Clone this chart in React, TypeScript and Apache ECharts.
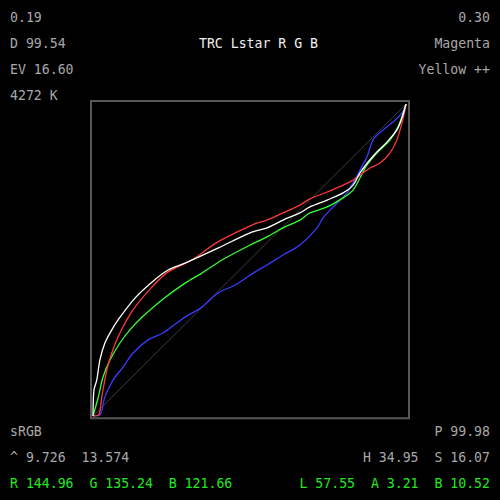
import React, { useEffect, useRef } from "react";
import * as echarts from "echarts";

// Tone response curves, input % -> output %
const whiteCurve: [number, number][] = [
  [0, 0], [0.3, 8.3], [1.2, 11.5], [2.2, 17.9], [3.8, 23.4], [6.0, 27.6], [8.0, 30.8],
  [13.4, 37.8], [18.8, 42.9], [24.0, 46.8], [29.4, 49.0], [39.9, 53.8], [50.2, 58.7],
  [55.6, 60.3], [60.7, 62.8], [66.1, 65.1], [69.3, 67.0], [74.8, 69.2], [79.9, 71.5],
  [83.1, 74.0], [85.3, 77.9], [87.9, 81.4], [90.7, 84.6], [93.9, 87.8], [97.1, 91.7],
  [98.7, 95.5], [100, 100],
];
const redCurve: [number, number][] = [
  [0, 0], [1.9, 0.5], [2.8, 6.1], [4.4, 14.7], [6.0, 20.2], [8.0, 25.3], [10.8, 30.8],
  [13.4, 34.9], [18.8, 41.3], [24.0, 46.2], [31.6, 50.0], [39.9, 55.8], [50.8, 61.2],
  [55.6, 62.8], [60.7, 65.1], [66.1, 67.6], [69.3, 69.6], [74.8, 71.8], [79.9, 74.0],
  [83.1, 75.6], [85.3, 77.2], [88.5, 79.5], [91.7, 81.1], [94.9, 84.3], [97.1, 88.5],
  [98.7, 93.9], [99.7, 98.1], [100, 100],
];
const greenCurve: [number, number][] = [
  [0, 0], [1.7, 6.1], [3.2, 12.5], [5.4, 17.9], [8.6, 23.4], [11.8, 27.6], [15.7, 31.7],
  [22.0, 37.2], [29.4, 42.6], [34.8, 45.8], [41.2, 50.0], [50.2, 54.8], [55.6, 57.4],
  [60.7, 60.3], [66.1, 62.8], [69.3, 65.1], [74.8, 67.0], [79.9, 69.9], [83.1, 72.4],
  [85.3, 76.3], [87.5, 80.4], [90.7, 84.3], [94.9, 88.5], [97.4, 92.6], [99.0, 96.8],
  [100, 100],
];
const blueCurve: [number, number][] = [
  [0, 0], [2.2, 0.3], [3.8, 6.1], [6.4, 11.5], [9.6, 15.7], [12.8, 20.2], [17.6, 24.4],
  [22.4, 26.6], [24.6, 28.2], [29.4, 31.7], [34.8, 34.9], [39.9, 39.4], [45.4, 42.0],
  [51.8, 46.2], [55.6, 48.4], [60.7, 51.6], [66.1, 54.8], [71.6, 60.3], [73.5, 63.5],
  [76.7, 67.0], [81.2, 71.5], [83.1, 74.7], [85.3, 78.8], [87.5, 83.0], [89.5, 88.5],
  [92.7, 91.7], [95.8, 94.2], [98.7, 97.1], [100, 100],
];
const identityLine: [number, number][] = [[0, 0], [100, 100]];

// Readouts around the plot
const topLeftLines = ["0.19", "D 99.54", "EV 16.60", "4272 K"];
const topRightLines = ["0.30", "Magenta", "Yellow ++"];
const titleText = "TRC Lstar R G B";
const bottomLeftGray = ["sRGB", "^ 9.726  13.574"];
const bottomRightGray = ["P 99.98", "H 34.95  S 16.07"];
const bottomLeftGreen = "R 144.96  G 135.24  B 121.66";
const bottomRightGreen = "L 57.55  A 3.21  B 10.52";

const FONT = "'DejaVu Sans Mono', monospace";
const GRAY = "#a8a8a8";
const GREEN = "#22e822";

export default function App() {
  const ref = useRef<HTMLDivElement>(null);

  useEffect(() => {
    if (!ref.current) return;
    const chart = echarts.init(ref.current, undefined, { renderer: "svg" });

    const txt = (
      text: string,
      x: number,
      y: number,
      align: "left" | "right" | "center",
      fill: string
    ) => ({
      type: "text",
      x,
      y,
      silent: true,
      style: {
        text,
        fill,
        font: `13.2px ${FONT}`,
        textAlign: align,
        textVerticalAlign: "middle",
      },
    });

    const rowsTop = [17, 43.5, 69.5, 95.5];
    const rowsBottom = [431.5, 457.5, 483];

    const graphic: any[] = [
      {
        type: "rect",
        silent: true,
        shape: { x: 91, y: 101, width: 318, height: 317.3 },
        style: { fill: "none", stroke: "#585858", lineWidth: 2 },
      },
      ...topLeftLines.map((t, i) => txt(t, 10, rowsTop[i], "left", GRAY)),
      ...topRightLines.map((t, i) => txt(t, 490, rowsTop[i], "right", GRAY)),
      txt(titleText, 258.5, rowsTop[1], "center", "#f0f0f0"),
      ...bottomLeftGray.map((t, i) => txt(t, 10, rowsBottom[i], "left", GRAY)),
      ...bottomRightGray.map((t, i) => txt(t, 490, rowsBottom[i], "right", GRAY)),
      txt(bottomLeftGreen, 10, rowsBottom[2], "left", GREEN),
      txt(bottomRightGreen, 490, rowsBottom[2], "right", GREEN),
    ];

    const curve = (name: string, data: [number, number][], color: string, width = 1.3) => ({
      name,
      type: "line",
      data,
      showSymbol: false,
      smooth: 0.3,
      lineStyle: { color, width },
      silent: true,
      z: 3,
    });

    chart.setOption({
      animation: false,
      backgroundColor: "#000000",
      grid: { left: 93, top: 104, width: 313, height: 312 },
      xAxis: { type: "value", min: 0, max: 100, show: false },
      yAxis: { type: "value", min: 0, max: 100, show: false },
      series: [
        {
          name: "identity",
          type: "line",
          data: identityLine,
          showSymbol: false,
          lineStyle: { color: "#3c3c3c", width: 1 },
          silent: true,
          z: 1,
        },
        curve("B", blueCurve, "#3a3aff"),
        curve("G", greenCurve, "#33ff33"),
        curve("R", redCurve, "#ff3838"),
        curve("L*", whiteCurve, "#ffffff"),
      ],
      graphic,
    });

    return () => chart.dispose();
  }, []);

  return (
    <div
      ref={ref}
      style={{ position: "absolute", left: 0, top: 0, width: 500, height: 500, background: "#000" }}
    />
  );
}
